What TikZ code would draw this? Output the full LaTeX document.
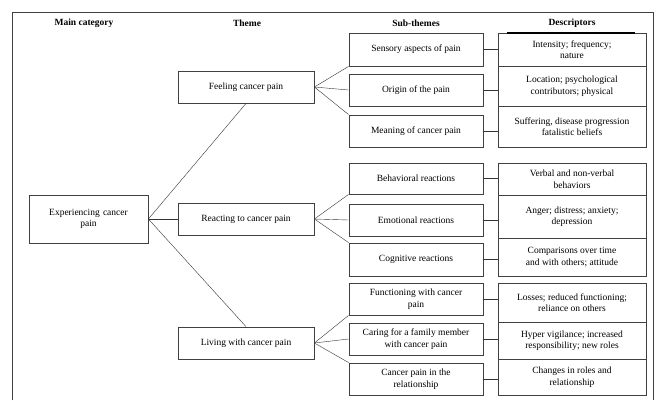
\documentclass[tikz,border=0pt]{standalone}
\usepackage{fontspec}
\setmainfont{Liberation Serif}
\usetikzlibrary{positioning}

\tikzset{
  box/.style={draw=black!75, thick, align=center, inner sep=1pt, font=\fontsize{9.5}{11.5}\selectfont},
  head/.style={font=\fontsize{9.5}{11.5}\selectfont\bfseries},
  link/.style={draw=black!80, thin}
}

\begin{document}
\begin{tikzpicture}[x=1pt,y=-1pt]
        \useasboundingbox (0,0) rectangle (659,400);
        % frame
        \draw[black!75, line width=1pt] (12,400) -- (12,12) -- (653,12) -- (653,400);
        % headers
        \node[head] (hmain) at (84,23) {Main category};
        \node[head] (htheme) at (247,23) {Theme};
        \node[head] (hsub) at (416,23) {Sub-themes};
        \node[head] (hdesc) at (572,23) {Descriptors};
        % main category
        \node[box, minimum width=119pt, minimum height=48pt, text width=112pt] (main) at (88.5,219) {Experiencing cancer\\pain};
        % themes
        \node[box, minimum width=136pt, minimum height=32pt] (feel) at (246,87) {Feeling cancer pain};
        \node[box, minimum width=136pt, minimum height=32pt] (react) at (246,219) {Reacting to cancer pain};
        \node[box, minimum width=136pt, minimum height=32pt] (live) at (246,343) {Living with cancer pain};
        % sub-themes
        \node[box, minimum width=134pt, minimum height=33pt] (sens) at (416,49.5) {Sensory aspects of pain};
        \node[box, minimum width=134pt, minimum height=32pt] (orig) at (416,90) {Origin of the pain};
        \node[box, minimum width=134pt, minimum height=32pt] (mean) at (416,131) {Meaning of cancer pain};
        \node[box, minimum width=134pt, minimum height=31pt] (behav) at (416,178.5) {Behavioral reactions};
        \node[box, minimum width=134pt, minimum height=32pt] (emot) at (416,220) {Emotional reactions};
        \node[box, minimum width=134pt, minimum height=33pt] (cogn) at (416,259.5) {Cognitive reactions};
        \node[box, minimum width=134pt, minimum height=32pt] (func) at (416,299) {Functioning with cancer\\pain};
        \node[box, minimum width=134pt, minimum height=32pt] (care) at (416,339) {Caring for a family member\\with cancer pain};
        \node[box, minimum width=134pt, minimum height=32pt] (rel) at (416,379) {Cancer pain in the\\relationship};
        % descriptors
        \node[box, minimum width=148pt, minimum height=33pt] (intens) at (572,49.5) {Intensity; frequency;\\nature};
        \node[box, minimum width=148pt, minimum height=40pt] (locat) at (572,86) {Location; psychological\\contributors; physical};
        \node[box, minimum width=148pt, minimum height=41pt] (suffer) at (572,126.5) {Suffering, disease progression\\fatalistic beliefs};
        \node[box, minimum width=148pt, minimum height=32pt] (verbal) at (572,179) {Verbal and non-verbal\\behaviors};
        \node[box, minimum width=148pt, minimum height=43pt] (anger) at (572,216.5) {Anger; distress; anxiety;\\depression};
        \node[box, minimum width=148pt, minimum height=38pt] (compar) at (572,257) {Comparisons over time\\and with others; attitude};
        \node[box, minimum width=148pt, minimum height=39pt] (losses) at (572,302.5) {Losses; reduced functioning;\\reliance on others};
        \node[box, minimum width=148pt, minimum height=37pt] (hyper) at (572,340.5) {Hyper vigilance; increased\\responsibility; new roles};
        \node[box, minimum width=148pt, minimum height=36pt] (roles) at (572,377) {Changes in roles and\\relationship};
        \draw[line width=1.4pt] (507,33) -- (635,33);
        % main to themes
        \draw[link] (main.east) -- (feel.south);
        \draw[link] (main.east) -- (react.west);
        \draw[link] (main.east) -- (live.north);
        % themes to sub-themes
        \draw[link] (feel.east) -- (sens.south west);
        \draw[link] (feel.east) -- (orig.west);
        \draw[link] (feel.east) -- (mean.north west);
        \draw[link] (react.east) -- (behav.south west);
        \draw[link] (react.east) -- (emot.west);
        \draw[link] (react.east) -- (cogn.north west);
        \draw[link] (live.east) -- (func.south west);
        \draw[link] (live.east) -- (care.west);
        \draw[link] (live.east) -- (rel.north west);
        % sub-themes to descriptors
        \foreach \s/\d in {sens/intens, orig/locat, mean/suffer, behav/verbal, emot/anger, cogn/compar, func/losses, care/hyper, rel/roles}
          \draw[link] (\s.east) -- (\s.east -| \d.west);
\end{tikzpicture}
\end{document}
